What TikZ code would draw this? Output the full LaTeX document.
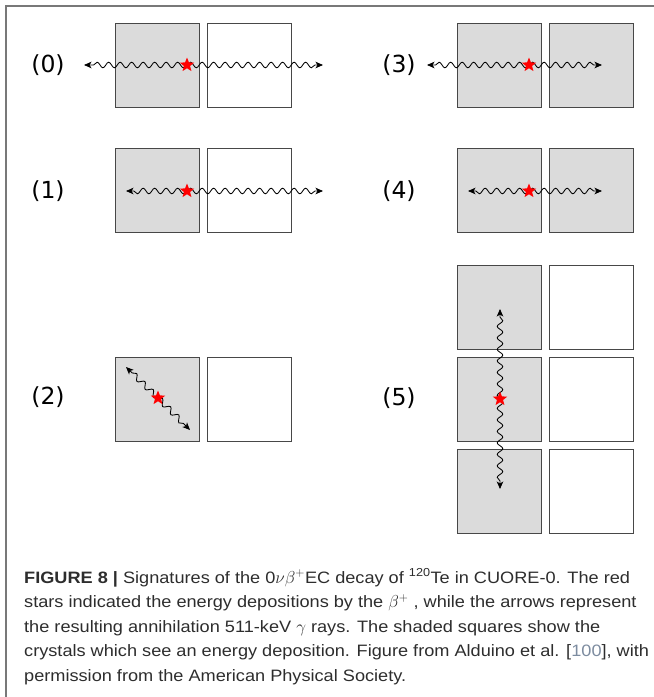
\documentclass[tikz,border=0pt]{standalone}
\usepackage{fontspec}
\setmainfont[FakeStretch=1.1]{Liberation Sans}
\newfontfamily\labelfont{DejaVu Sans}
\usetikzlibrary{shapes.geometric,decorations.pathmorphing,arrows.meta}
\definecolor{refblue}{RGB}{125,140,160}
\definecolor{framegray}{RGB}{120,120,120}
\definecolor{capgray}{RGB}{45,45,45}
\begin{document}
\begin{tikzpicture}[x=1pt,y=-1pt,
 crystal/.style={draw=black!72,line width=1.2pt,minimum size=84pt,inner sep=0pt,anchor=north west},
 hit/.style={crystal,fill=black!14},
 miss/.style={crystal,fill=white},
 plabel/.style={font=\labelfont\fontsize{23.5}{24}\selectfont,inner sep=0pt},
 dep/.style={star,star points=5,star point ratio=2.3,fill=red,minimum size=15pt,inner sep=0pt},
 gamma/.style={line width=0.85pt,-{Stealth[length=7.5pt,width=6.5pt,inset=2pt]},decorate,
   decoration={snake,amplitude=2.8pt,segment length=11.5pt,post length=6pt}},
 caption/.style={anchor=base west,inner sep=0pt,text=capgray,font=\fontsize{16.5}{19}\selectfont}
]
\useasboundingbox (0,0) rectangle (654,697);
\draw[framegray,line width=1.5pt] (6,697) -- (6,6) -- (654,6);

% ---------- panel (0)
\node[plabel] (l0) at (48,65) {(0)};
\node[hit]  (c0a) at (115,23) {};
\node[miss] (c0b) at (207,23) {};
\coordinate (s0) at (187,65);
\coordinate (t0l) at (84,65);
\coordinate (t0r) at (323,65);
\draw[gamma] (s0) -- (t0l);
\draw[gamma] (s0) -- (t0r);
\node[dep] (d0) at (s0) {};

% ---------- panel (1)
\node[plabel] (l1) at (48,191) {(1)};
\node[hit]  (c1a) at (115,148) {};
\node[miss] (c1b) at (207,148) {};
\coordinate (s1) at (187,191);
\coordinate (t1l) at (126,191);
\coordinate (t1r) at (323,191);
\draw[gamma] (s1) -- (t1l);
\draw[gamma] (s1) -- (t1r);
\node[dep] (d1) at (s1) {};

% ---------- panel (2)
\node[plabel] (l2) at (48,397) {(2)};
\node[hit]  (c2a) at (115,357) {};
\node[miss] (c2b) at (207,357) {};
\coordinate (s2) at (158,398);
\coordinate (t2l) at (126,367);
\coordinate (t2r) at (190,430);
\draw[gamma] (s2) -- (t2l);
\draw[gamma] (s2) -- (t2r);
\node[dep] (d2) at (s2) {};

% ---------- panel (3)
\node[plabel] (l3) at (399,65) {(3)};
\node[hit] (c3a) at (457,23) {};
\node[hit] (c3b) at (549,23) {};
\coordinate (s3) at (529,65);
\coordinate (t3l) at (427,65);
\coordinate (t3r) at (602,65);
\draw[gamma] (s3) -- (t3l);
\draw[gamma] (s3) -- (t3r);
\node[dep] (d3) at (s3) {};

% ---------- panel (4)
\node[plabel] (l4) at (399,191) {(4)};
\node[hit] (c4a) at (457,148) {};
\node[hit] (c4b) at (549,148) {};
\coordinate (s4) at (529,191);
\coordinate (t4l) at (468,191);
\coordinate (t4r) at (602,191);
\draw[gamma] (s4) -- (t4l);
\draw[gamma] (s4) -- (t4r);
\node[dep] (d4) at (s4) {};

% ---------- panel (5)
\node[plabel] (l5) at (399,398) {(5)};
\node[hit]  (c5a) at (457,265) {};
\node[miss] (c5b) at (549,265) {};
\node[hit]  (c5c) at (457,357) {};
\node[miss] (c5d) at (549,357) {};
\node[hit]  (c5e) at (457,449) {};
\node[miss] (c5f) at (549,449) {};
\coordinate (s5) at (500,399);
\coordinate (t5u) at (500,309);
\coordinate (t5d) at (500,489);
\draw[gamma] (s5) -- (t5u);
\draw[gamma] (s5) -- (t5d);
\node[dep] (d5) at (s5) {};

% ---------- caption
\node[caption] (cap1) at (24,583) {{\bfseries FIGURE 8 |} Signatures of the 0$\nu\beta^{+}$EC decay of \textsuperscript{120}Te in CUORE-0. The red};
\node[caption] (cap2) at (24,607.5) {stars indicated the energy depositions by the $\beta^{+}$ , while the arrows represent};
\node[caption] (cap3) at (24,632) {the resulting annihilation 511-keV $\gamma$ rays. The shaded squares show the};
\node[caption] (cap4) at (24,656.5) {crystals which see an energy deposition. Figure from Alduino et al. [{\color{refblue}100}], with};
\node[caption] (cap5) at (24,681) {permission from the American Physical Society.};
\end{tikzpicture}
\end{document}
